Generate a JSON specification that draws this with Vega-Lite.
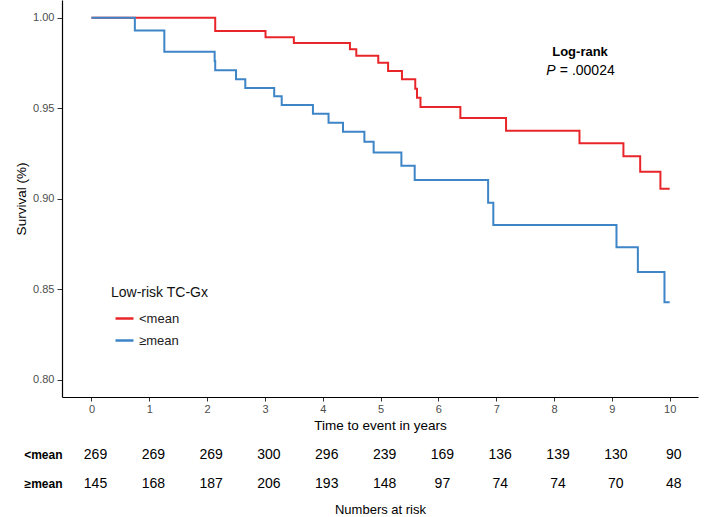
{
  "$schema": "https://vega.github.io/schema/vega-lite/v6.json",
  "padding": {"left": 14, "top": 0, "right": 8, "bottom": 0},
  "config": {
    "font": "Liberation Sans",
    "view": {"stroke": null},
    "axis": {"grid": false, "domainColor": "#000", "domainWidth": 1.2, "tickColor": "#333", "labelColor": "#4d4d4d", "labelFont": "Liberation Sans", "titleFont": "Liberation Sans", "titleFontWeight": "normal", "titleColor": "#000"}
  },
  "datasets": {
    "km": [
      {"t": 0, "s": 1.0, "group": "<mean"},
      {"t": 2.14, "s": 0.9927, "group": "<mean"},
      {"t": 3.01, "s": 0.9893, "group": "<mean"},
      {"t": 3.5, "s": 0.986, "group": "<mean"},
      {"t": 4.47, "s": 0.9826, "group": "<mean"},
      {"t": 4.58, "s": 0.979, "group": "<mean"},
      {"t": 4.96, "s": 0.9752, "group": "<mean"},
      {"t": 5.13, "s": 0.9706, "group": "<mean"},
      {"t": 5.37, "s": 0.966, "group": "<mean"},
      {"t": 5.6, "s": 0.9608, "group": "<mean"},
      {"t": 5.63, "s": 0.9558, "group": "<mean"},
      {"t": 5.69, "s": 0.9507, "group": "<mean"},
      {"t": 6.38, "s": 0.9446, "group": "<mean"},
      {"t": 7.17, "s": 0.9376, "group": "<mean"},
      {"t": 8.44, "s": 0.9307, "group": "<mean"},
      {"t": 9.2, "s": 0.9235, "group": "<mean"},
      {"t": 9.49, "s": 0.915, "group": "<mean"},
      {"t": 9.84, "s": 0.9056, "group": "<mean"},
      {"t": 10.0, "s": 0.9056, "group": "<mean"},
      {"t": 0, "s": 1.0, "group": "≥mean"},
      {"t": 0.75, "s": 0.993, "group": "≥mean"},
      {"t": 1.26, "s": 0.9812, "group": "≥mean"},
      {"t": 2.13, "s": 0.9761, "group": "≥mean"},
      {"t": 2.14, "s": 0.971, "group": "≥mean"},
      {"t": 2.5, "s": 0.966, "group": "≥mean"},
      {"t": 2.66, "s": 0.9612, "group": "≥mean"},
      {"t": 3.16, "s": 0.9566, "group": "≥mean"},
      {"t": 3.29, "s": 0.9518, "group": "≥mean"},
      {"t": 3.83, "s": 0.947, "group": "≥mean"},
      {"t": 4.1, "s": 0.942, "group": "≥mean"},
      {"t": 4.35, "s": 0.937, "group": "≥mean"},
      {"t": 4.72, "s": 0.9316, "group": "≥mean"},
      {"t": 4.88, "s": 0.9256, "group": "≥mean"},
      {"t": 5.36, "s": 0.9183, "group": "≥mean"},
      {"t": 5.59, "s": 0.9104, "group": "≥mean"},
      {"t": 6.86, "s": 0.8979, "group": "≥mean"},
      {"t": 6.95, "s": 0.8856, "group": "≥mean"},
      {"t": 9.08, "s": 0.8733, "group": "≥mean"},
      {"t": 9.45, "s": 0.8596, "group": "≥mean"},
      {"t": 9.91, "s": 0.8429, "group": "≥mean"},
      {"t": 10.0, "s": 0.8429, "group": "≥mean"}
    ],
    "risk": [
      {"t": 0, "group": "<mean", "n": 269},
      {"t": 1, "group": "<mean", "n": 269},
      {"t": 2, "group": "<mean", "n": 269},
      {"t": 3, "group": "<mean", "n": 300},
      {"t": 4, "group": "<mean", "n": 296},
      {"t": 5, "group": "<mean", "n": 239},
      {"t": 6, "group": "<mean", "n": 169},
      {"t": 7, "group": "<mean", "n": 136},
      {"t": 8, "group": "<mean", "n": 139},
      {"t": 9, "group": "<mean", "n": 130},
      {"t": 10, "group": "<mean", "n": 90},
      {"t": 0, "group": "≥mean", "n": 145},
      {"t": 1, "group": "≥mean", "n": 168},
      {"t": 2, "group": "≥mean", "n": 187},
      {"t": 3, "group": "≥mean", "n": 206},
      {"t": 4, "group": "≥mean", "n": 193},
      {"t": 5, "group": "≥mean", "n": 148},
      {"t": 6, "group": "≥mean", "n": 97},
      {"t": 7, "group": "≥mean", "n": 74},
      {"t": 8, "group": "≥mean", "n": 74},
      {"t": 9, "group": "≥mean", "n": 70},
      {"t": 10, "group": "≥mean", "n": 48}
    ]
  },
  "spacing": 8,
  "vconcat": [
    {
      "width": 636,
      "height": 397,
      "layer": [
        {
          "data": {"name": "km"},
          "mark": {"type": "line", "interpolate": "step-after", "strokeWidth": 2},
          "encoding": {
            "x": {"field": "t", "type": "quantitative", "scale": {"domain": [-0.51, 10.49], "nice": false},
              "axis": {"title": "Time to event in years", "values": [0, 1, 2, 3, 4, 5, 6, 7, 8, 9, 10], "format": "d", "tickSize": 4, "labelPadding": 2, "labelFontSize": 11, "titleFontSize": 13.5, "titlePadding": 4}},
            "y": {"field": "s", "type": "quantitative", "scale": {"domain": [0.7906, 1.0098], "nice": false, "zero": false},
              "axis": {"title": "Survival (%)", "values": [0.8, 0.85, 0.9, 0.95, 1.0], "format": ".2f", "tickSize": 5, "labelPadding": 3, "labelFontSize": 11, "titleFontSize": 13.5, "titlePadding": 4}},
            "color": {"field": "group", "type": "nominal", "scale": {"domain": ["<mean", "≥mean"], "range": ["#e8262a", "#3d85c6"]},
              "legend": {"title": "Low-risk TC-Gx", "orient": "none", "legendX": 49, "legendY": 286, "symbolType": "stroke", "symbolSize": 324, "symbolStrokeWidth": 2.5, "symbolOffset": 3, "labelOffset": 4, "labelFontSize": 13, "labelColor": "#222", "titleFontSize": 14, "titleFontWeight": "normal", "titleColor": "#111", "titlePadding": 8, "rowPadding": 4}}
          }
        },
        {
          "data": {"values": [{"t": 8.45, "s": 0.9811, "label": "Log-rank"}]},
          "mark": {"type": "text", "fontWeight": "bold", "fontSize": 13, "align": "center", "baseline": "middle", "color": "#000"},
          "encoding": {
            "x": {"field": "t", "type": "quantitative"},
            "y": {"field": "s", "type": "quantitative"},
            "text": {"field": "label"}
          }
        },
        {
          "data": {"values": [{"t": 7.865, "s": 0.9706, "label": "P"}]},
          "mark": {"type": "text", "fontStyle": "italic", "fontSize": 14, "align": "left", "baseline": "middle", "color": "#000"},
          "encoding": {
            "x": {"field": "t", "type": "quantitative"},
            "y": {"field": "s", "type": "quantitative"},
            "text": {"field": "label"}
          }
        },
        {
          "data": {"values": [{"t": 8.1, "s": 0.9706, "label": "= .00024"}]},
          "mark": {"type": "text", "fontSize": 14, "align": "left", "baseline": "middle", "color": "#000"},
          "encoding": {
            "x": {"field": "t", "type": "quantitative"},
            "y": {"field": "s", "type": "quantitative"},
            "text": {"field": "label"}
          }
        }
      ]
    },
    {
      "width": 636,
      "height": 58,
      "data": {"name": "risk"},
      "mark": {"type": "text", "fontSize": 14, "dx": 4, "baseline": "middle", "color": "#000"},
      "encoding": {
        "x": {"field": "t", "type": "quantitative", "scale": {"domain": [-0.51, 10.49], "nice": false},
          "axis": {"title": "Numbers at risk", "labels": false, "ticks": false, "domain": false, "titleFontSize": 13, "titlePadding": 5}},
        "y": {"field": "group", "type": "nominal", "scale": {"domain": ["<mean", "≥mean"]},
          "axis": {"title": null, "domain": false, "ticks": false, "labelFontWeight": "bold", "labelFontSize": 12, "labelColor": "#000", "labelPadding": 0}},
        "text": {"field": "n", "type": "quantitative"}
      }
    }
  ]
}
